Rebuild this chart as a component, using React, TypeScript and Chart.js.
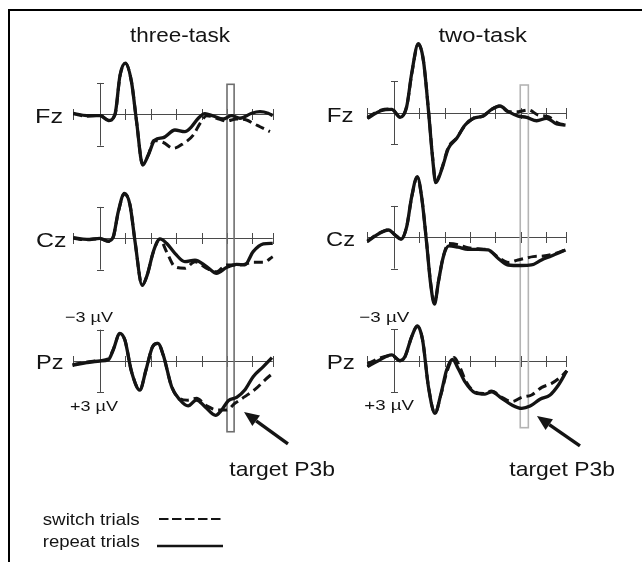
import React, { useEffect, useRef } from "react";
import { Chart, registerables } from "chart.js";

Chart.register(...registerables);

type P = [number, number];

// ---------- DATA (time in ms, amplitude in µV; negative plotted upward) ----------
const threeFzRepeat: P[] = [[-105,-0.1],[-52,0.13],[0,0.13],[33,0.6],[59,0],[79,-3.76],[100,-4.9],[124,-3.1],[144,0.7],[168,4.85],[190,3.9],[216,2.46],[249,2.24],[295,1.5],[334,1.66],[360,1.2],[387,0.38],[413,-0.06],[446,0.16],[485,0.45],[518,0.13],[551,0.38],[597,-0.1],[630,-0.25],[662,-0.1],[680,0.13]];
const threeFzSwitch: P[] = [[-105,-0.05],[-52,0.18],[0,0.1],[33,0.55],[59,0.05],[79,-3.7],[100,-4.85],[124,-3.1],[144,0.7],[168,4.8],[190,3.9],[212,2.5],[249,2.7],[289,3.25],[328,2.8],[367,2.0],[394,0.86],[420,0.13],[459,0.38],[498,0.64],[538,0.45],[577,0.54],[605,0.9],[630,1.19],[669,1.66]];
const threeCzRepeat: P[] = [[-105,-0.06],[-52,0.1],[0,0],[33,0.26],[52,-0.13],[72,-2.55],[96,-4.3],[118,-3.2],[138,0.32],[166,4.5],[186,3.5],[210,1.28],[236,0.06],[262,0.48],[295,1.44],[334,2.24],[374,2.08],[420,2.72],[459,3.35],[498,2.8],[538,2.49],[570,2.55],[603,1.28],[643,0.54],[680,0.48]];
const threeCzSwitch: P[] = [[-105,0],[-52,0.15],[0,0.05],[33,0.3],[52,-0.1],[72,-2.5],[96,-4.25],[118,-3.2],[138,0.3],[166,4.5],[186,3.5],[210,1.3],[236,0.1],[262,1.28],[295,2.72],[334,2.87],[374,2.24],[420,2.87],[459,3.19],[498,2.55],[551,2.55],[603,2.3],[643,2.3],[680,1.76]];
const threePzRepeat: P[] = [[-108,0.41],[-52,0.16],[0,0],[33,-0.13],[52,-1.05],[78,-2.65],[98,-2.0],[124,1.02],[157,2.78],[181,0.86],[207,-1.37],[228,-1.69],[249,-0.57],[282,2.46],[315,3.73],[347,4.3],[380,3.73],[413,4.37],[455,5.2],[479,4.69],[505,3.8],[538,3.48],[570,2.78],[603,1.5],[643,0.54],[677,-0.32]];
const threePzSwitch: P[] = [[-108,0.35],[-52,0.1],[0,-0.05],[33,-0.2],[52,-1.1],[78,-2.6],[98,-2.0],[124,1.0],[157,2.75],[181,0.86],[207,-1.37],[228,-1.69],[249,-0.57],[282,2.46],[315,3.6],[345,3.75],[380,3.57],[420,4.3],[466,4.69],[498,4.69],[531,4.05],[570,3.41],[616,2.6],[649,1.82],[680,1.18]];

const twoFzRepeat: P[] = [[-105,0.54],[-52,-0.19],[-9,-0.32],[24,0.44],[50,-0.57],[70,-3.77],[96,-6.6],[116,-5.04],[136,-0.26],[152,4.2],[165,6.7],[188,5.48],[215,3.41],[248,2.45],[281,1.18],[314,0.54],[353,0.32],[386,-0.32],[419,-0.64],[452,-0.1],[491,0.32],[524,0.44],[564,0.77],[603,0.54],[643,1.08],[678,1.18]];
const twoFzSwitch: P[] = [[-105,0.45],[-52,-0.25],[-9,-0.35],[24,0.4],[50,-0.55],[70,-3.7],[96,-6.55],[116,-5.0],[136,-0.3],[152,4.1],[165,6.6],[188,5.4],[215,3.3],[248,2.4],[281,1.2],[314,0.54],[353,0.3],[386,-0.32],[419,-0.64],[452,-0.1],[491,-0.1],[531,-0.26],[570,0.22],[610,0.38],[649,1.0],[678,1.18]];
const twoCzRepeat: P[] = [[-105,0.41],[-62,-0.32],[-22,-0.7],[4,-0.22],[28,0.19],[50,-1.0],[70,-3.9],[92,-5.8],[109,-3.9],[129,0.57],[145,4.5],[160,6.4],[176,4.2],[195,1.86],[217,0.83],[253,0.95],[292,1.15],[332,1.15],[372,1.21],[411,2.0],[451,2.65],[503,2.7],[543,2.65],[583,2.17],[622,1.79],[678,1.21]];
const twoCzSwitch: P[] = [[-105,0.35],[-62,-0.35],[-22,-0.7],[4,-0.25],[28,0.15],[50,-1.0],[70,-3.85],[92,-5.75],[109,-3.9],[129,0.5],[145,4.4],[160,6.3],[176,4.2],[195,1.8],[217,0.6],[253,0.7],[292,1.0],[332,1.1],[372,1.2],[411,1.9],[451,2.4],[490,2.17],[520,2.0],[550,1.85],[590,1.79],[630,1.6],[678,1.21]];
const twoPzRepeat: P[] = [[-105,0.57],[-62,0],[-9,-0.55],[24,0],[43,-0.38],[70,-2.3],[92,-3.32],[113,-1.98],[136,2.49],[162,5.03],[186,3.12],[208,0.89],[231,-0.13],[254,0.77],[280,2.0],[320,3.06],[360,3.19],[386,2.97],[426,3.6],[466,4.24],[505,4.56],[538,4.34],[577,3.69],[617,3.28],[650,2.33],[683,0.96]];
const twoPzSwitch: P[] = [[-105,0.3],[-62,-0.2],[-9,-0.5],[24,0],[43,-0.35],[70,-2.3],[92,-3.3],[113,-2.0],[136,2.45],[162,5.0],[186,3.2],[210,1.0],[238,-0.3],[260,0.6],[285,2.0],[320,3.0],[360,3.15],[386,2.9],[426,3.5],[466,3.92],[505,3.5],[544,3.28],[584,2.55],[623,2.17],[663,1.47],[683,0.96]];

const SITES = ["Fz", "Cz", "Pz"];
const CONDITIONS = ["three-task", "two-task"];
const EPOCH: P = [-105, 680];
const TICK_TIMES = [-105, 100, 200, 300, 400, 500, 600, 680];
const SCALE_BAR_UV = 3;
const P3B_WINDOW_L: P = [500, 528];
const P3B_WINDOW_R: P = [499, 531];
const LEGEND_LABELS = ["switch trials", "repeat trials"];
const ANNOTATION = "target P3b";

// ---------- LAYOUT / STYLE ----------
const W = 642;
const H = 562;
const PX_PER_UV = 10.45;
const FONT = '"Liberation Sans", Arial, Helvetica, sans-serif';
const INK = "#141414";
const COLS: Record<string, { zeroPx: number; pxPerMs: number; base: Record<string, number>; boxTop: number; boxBot: number; boxColor: string; win: P }> = {
  L: { zeroPx: 100, pxPerMs: 0.254, base: { Fz: 114.3, Cz: 238.3, Pz: 361 }, boxTop: -2.87, boxBot: 6.77, boxColor: "#6e6e6e", win: P3B_WINDOW_L },
  R: { zeroPx: 394, pxPerMs: 0.253, base: { Fz: 112.7, Cz: 237.3, Pz: 360.7 }, boxTop: -2.65, boxBot: 6.41, boxColor: "#b4b4b4", win: P3B_WINDOW_R },
};

const SERIES = [
  { col: "L", site: "Fz", kind: "repeat", data: threeFzRepeat },
  { col: "L", site: "Cz", kind: "repeat", data: threeCzRepeat },
  { col: "L", site: "Pz", kind: "repeat", data: threePzRepeat },
  { col: "R", site: "Fz", kind: "repeat", data: twoFzRepeat },
  { col: "R", site: "Cz", kind: "repeat", data: twoCzRepeat },
  { col: "R", site: "Pz", kind: "repeat", data: twoPzRepeat },
  { col: "L", site: "Fz", kind: "switch", data: threeFzSwitch },
  { col: "L", site: "Cz", kind: "switch", data: threeCzSwitch },
  { col: "L", site: "Pz", kind: "switch", data: threePzSwitch },
  { col: "R", site: "Fz", kind: "switch", data: twoFzSwitch },
  { col: "R", site: "Cz", kind: "switch", data: twoCzSwitch },
  { col: "R", site: "Pz", kind: "switch", data: twoPzSwitch },
];

function drawText(ctx: CanvasRenderingContext2D, s: string, x: number, y: number, size: number, width?: number) {
  ctx.save();
  ctx.font = `${size}px ${FONT}`;
  ctx.fillStyle = INK;
  ctx.textAlign = "left";
  ctx.textBaseline = "alphabetic";
  const m = ctx.measureText(s).width;
  const sx = width ? width / m : 1;
  ctx.translate(x, y);
  ctx.scale(sx, 1);
  ctx.fillText(s, 0, 0);
  ctx.restore();
}

function arrow(ctx: CanvasRenderingContext2D, x1: number, y1: number, x2: number, y2: number) {
  const ang = Math.atan2(y2 - y1, x2 - x1);
  const hl = 15, hw = 6.5;
  const bx = x2 - hl * Math.cos(ang), by = y2 - hl * Math.sin(ang);
  ctx.save();
  ctx.strokeStyle = INK;
  ctx.fillStyle = INK;
  ctx.lineWidth = 3.4;
  ctx.beginPath();
  ctx.moveTo(x1, y1);
  ctx.lineTo(bx, by);
  ctx.stroke();
  ctx.beginPath();
  ctx.moveTo(x2, y2);
  ctx.lineTo(bx + hw * Math.sin(ang), by - hw * Math.cos(ang));
  ctx.lineTo(bx - hw * Math.sin(ang), by + hw * Math.cos(ang));
  ctx.closePath();
  ctx.fill();
  ctx.restore();
}

const decoPlugin = {
  id: "erpDeco",
  beforeDatasetsDraw(chart: any) {
    const ctx: CanvasRenderingContext2D = chart.ctx;
    ctx.save();
    // frame
    ctx.strokeStyle = "#000";
    ctx.lineWidth = 2;
    ctx.beginPath();
    ctx.moveTo(9, H);
    ctx.lineTo(9, 10);
    ctx.lineTo(W, 10);
    ctx.stroke();
    for (const col of ["L", "R"]) {
      const xs = chart.scales["x" + col];
      for (const site of SITES) {
        const ys = chart.scales["y" + col + site];
        const y0 = Math.round(ys.getPixelForValue(0)) + 0.5;
        ctx.strokeStyle = "#4a4a4a";
        ctx.lineWidth = 1;
        ctx.beginPath();
        ctx.moveTo(xs.getPixelForValue(EPOCH[0]), y0);
        ctx.lineTo(xs.getPixelForValue(EPOCH[1]), y0);
        for (const t of TICK_TIMES) {
          const x = Math.round(xs.getPixelForValue(t)) + 0.5;
          ctx.moveTo(x, y0 - 5.5);
          ctx.lineTo(x, y0 + 5.5);
        }
        const xa = Math.round(xs.getPixelForValue(0)) + 0.5;
        const yt = ys.getPixelForValue(-SCALE_BAR_UV);
        const yb = ys.getPixelForValue(SCALE_BAR_UV);
        ctx.moveTo(xa, yt);
        ctx.lineTo(xa, yb);
        ctx.moveTo(xa - 3.5, Math.round(yt) + 0.5);
        ctx.lineTo(xa + 3.5, Math.round(yt) + 0.5);
        ctx.moveTo(xa - 3.5, Math.round(yb) + 0.5);
        ctx.lineTo(xa + 3.5, Math.round(yb) + 0.5);
        ctx.stroke();
      }
      const c = COLS[col];
      const x1 = xs.getPixelForValue(c.win[0]);
      const x2 = xs.getPixelForValue(c.win[1]);
      const yTop = chart.scales["y" + col + "Fz"].getPixelForValue(c.boxTop);
      const yBot = chart.scales["y" + col + "Pz"].getPixelForValue(c.boxBot);
      ctx.strokeStyle = c.boxColor;
      ctx.lineWidth = 1.6;
      ctx.strokeRect(x1, yTop, x2 - x1, yBot - yTop);
    }
    ctx.restore();
  },
  afterDatasetsDraw(chart: any) {
    const ctx: CanvasRenderingContext2D = chart.ctx;
    // titles
    drawText(ctx, CONDITIONS[0], 130, 41.5, 20.5, 100);
    drawText(ctx, CONDITIONS[1], 438.5, 41.5, 20.5, 88.5);
    // site labels
    drawText(ctx, SITES[0], 35, 122.5, 21, 28);
    drawText(ctx, SITES[1], 36, 246.5, 21, 30.5);
    drawText(ctx, SITES[2], 36, 368.5, 21, 27.5);
    drawText(ctx, SITES[0], 326.7, 121.5, 21, 26.8);
    drawText(ctx, SITES[1], 326, 245.5, 21, 29);
    drawText(ctx, SITES[2], 326.7, 368.5, 21, 28.3);
    // scale bar labels
    drawText(ctx, "\u2212" + SCALE_BAR_UV + " \u00B5V", 65, 321.5, 15, 48);
    drawText(ctx, "+" + SCALE_BAR_UV + " \u00B5V", 70, 410.5, 15, 48);
    drawText(ctx, "\u2212" + SCALE_BAR_UV + " \u00B5V", 359.3, 321.5, 15, 50);
    drawText(ctx, "+" + SCALE_BAR_UV + " \u00B5V", 364.3, 409.5, 15, 49.7);
    // arrows (anchored to the Pz scales)
    for (const [col, tTail, vTail, tTip, vTip] of [["L", 740, 7.94, 567, 4.88], ["R", 735, 8.16, 565, 5.29]] as any) {
      const xs = chart.scales["x" + col];
      const ys = chart.scales["y" + col + "Pz"];
      arrow(ctx, xs.getPixelForValue(tTail), ys.getPixelForValue(vTail), xs.getPixelForValue(tTip), ys.getPixelForValue(vTip));
    }
    drawText(ctx, ANNOTATION, 229.3, 476, 21, 105.7);
    drawText(ctx, ANNOTATION, 509.3, 476, 21, 105.7);
    // legend
    drawText(ctx, LEGEND_LABELS[0], 42.7, 525, 16.5, 97);
    drawText(ctx, LEGEND_LABELS[1], 42.7, 546.5, 16.5, 97);
    ctx.save();
    ctx.strokeStyle = INK;
    ctx.lineWidth = 2.2;
    ctx.setLineDash([9.5, 3.5]);
    ctx.beginPath();
    ctx.moveTo(159, 519);
    ctx.lineTo(223, 519);
    ctx.stroke();
    ctx.setLineDash([]);
    ctx.lineWidth = 2.4;
    ctx.beginPath();
    ctx.moveTo(157, 546);
    ctx.lineTo(223, 546);
    ctx.stroke();
    ctx.restore();
  },
};

export default function App() {
  const ref = useRef<HTMLCanvasElement | null>(null);
  useEffect(() => {
    document.body.style.margin = "0";
    const canvas = ref.current;
    if (!canvas) return;
    const scales: any = {};
    for (const col of ["L", "R"]) {
      const c = COLS[col];
      scales["x" + col] = {
        type: "linear",
        display: false,
        min: -c.zeroPx / c.pxPerMs,
        max: (W - c.zeroPx) / c.pxPerMs,
      };
      for (const site of SITES) {
        const b = c.base[site];
        scales["y" + col + site] = {
          type: "linear",
          display: false,
          reverse: true,
          min: -b / PX_PER_UV,
          max: (H - b) / PX_PER_UV,
        };
      }
    }
    const datasets = SERIES.map((s) => ({
      label: s.kind + " " + s.col + " " + s.site,
      data: s.data.map(([x, y]) => ({ x, y })),
      xAxisID: "x" + s.col,
      yAxisID: "y" + s.col + s.site,
      borderColor: INK,
      backgroundColor: INK,
      borderWidth: s.kind === "repeat" ? 3.3 : 3,
      borderDash: s.kind === "switch" ? [9, 5] : [],
      borderCapStyle: "butt",
      borderJoinStyle: "round",
      pointRadius: 0,
      fill: false,
      cubicInterpolationMode: "monotone",
      clip: false,
    }));
    const chart = new Chart(canvas, {
      type: "line",
      data: { datasets } as any,
      options: {
        responsive: false,
        animation: false,
        events: [],
        layout: { padding: 0 },
        scales,
        plugins: { legend: { display: false }, tooltip: { enabled: false }, title: { display: false } },
      } as any,
      plugins: [decoPlugin],
    });
    return () => chart.destroy();
  }, []);
  return (
    <div style={{ position: "absolute", left: 0, top: 0, width: W, height: H, background: "#fff" }}>
      <canvas ref={ref} width={W} height={H} style={{ width: W, height: H, display: "block" }} />
    </div>
  );
}
